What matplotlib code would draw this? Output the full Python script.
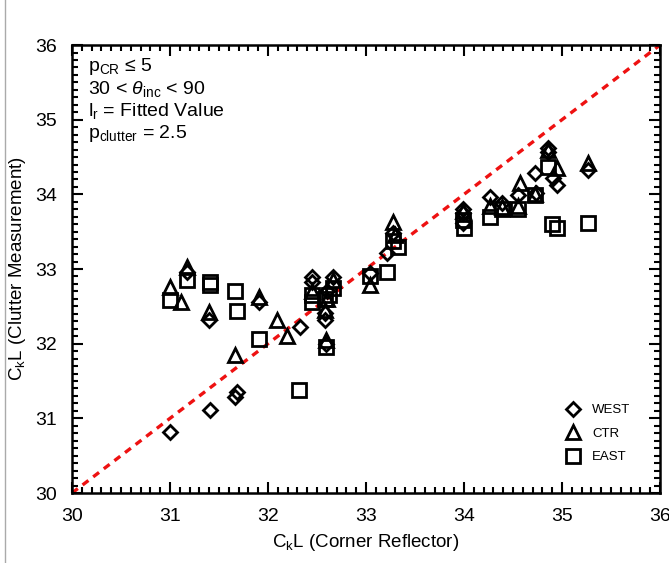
import matplotlib
matplotlib.use("Agg")
import matplotlib.pyplot as plt
from matplotlib.ticker import MultipleLocator
from matplotlib.lines import Line2D

plt.rcParams['font.family'] = ['Liberation Sans', 'DejaVu Sans']
plt.rcParams['mathtext.fontset'] = 'custom'
plt.rcParams['mathtext.rm'] = 'Liberation Sans'
plt.rcParams['mathtext.it'] = 'Liberation Sans:italic'
plt.rcParams['mathtext.bf'] = 'Liberation Sans:bold'

# ---- data ----
west_x = [31.00, 31.41, 31.66, 31.68, 31.17, 31.40, 31.91, 32.33, 32.45, 32.45,
          32.66, 32.58, 32.58, 32.59, 32.60, 33.04, 33.21, 33.28, 33.99, 33.99,
          34.27, 34.39, 34.55, 34.74, 34.86, 34.86, 34.72, 34.91, 34.95, 35.27, 33.99]
west_y = [30.82, 31.11, 31.29, 31.35, 32.96, 32.32, 32.56, 32.22, 32.89, 32.83,
          32.89, 32.41, 32.32, 32.00, 32.70, 32.95, 33.21, 33.48, 33.80, 33.75,
          33.96, 33.88, 33.99, 34.02, 34.62, 34.57, 34.29, 34.22, 34.13, 34.33, 33.62]

ctr_x = [31.00, 31.11, 31.17, 31.40, 31.66, 31.91, 32.09, 32.19, 32.45, 32.58,
         32.59, 32.66, 32.60, 33.04, 33.28, 33.30, 33.99, 34.27, 34.39, 34.57,
         34.72, 34.86, 34.95, 35.27, 34.55]
ctr_y = [32.76, 32.56, 33.03, 32.42, 31.85, 32.62, 32.32, 32.10, 32.70, 32.45,
         32.05, 32.85, 32.60, 32.78, 33.63, 33.45, 33.78, 33.85, 33.83, 34.15,
         34.00, 34.60, 34.35, 34.42, 33.85]

east_x = [31.00, 31.17, 31.41, 31.41, 31.66, 31.68, 31.91, 32.32, 32.45, 32.45,
          32.58, 32.66, 32.62, 32.59, 33.04, 33.21, 33.28, 33.33, 33.99, 34.00,
          34.27, 34.39, 34.55, 34.72, 34.86, 34.90, 34.95, 35.27]
east_y = [32.58, 32.85, 32.83, 32.78, 32.70, 32.44, 32.06, 31.38, 32.65, 32.56,
          32.60, 32.75, 32.65, 31.95, 32.90, 32.96, 33.38, 33.30, 33.65, 33.55,
          33.70, 33.80, 33.80, 33.99, 34.37, 33.60, 33.55, 33.62]

one_to_one = [30, 36]
annot_lines = [r'$\mathregular{p_{CR}}$ ≤ 5',
               r'30 < $\theta_{\mathregular{inc}}$ < 90',
               r'$\mathregular{l_{r}}$ = Fitted Value',
               r'$\mathregular{p_{clutter}}$ = 2.5']

fig = plt.figure(figsize=(6.69, 5.63), dpi=100)
ax = fig.add_axes([0.1076, 0.1243, 0.8789, 0.7957])

ax.plot(one_to_one, one_to_one, color='#ee1111', lw=2.4, ls=(0, (2.2, 1.8)), zorder=1)

mk = dict(linestyle='none', markerfacecolor='none', markeredgecolor='black',
          markeredgewidth=2.0, zorder=3)
ax.plot(west_x, west_y, marker='D', markersize=7, **mk)
ax.plot(ctr_x, ctr_y, marker='^', markersize=10.5, **mk)
ax.plot(east_x, east_y, marker='s', markersize=10, **mk)

ax.set_xlim(30, 36)
ax.set_ylim(30, 36)
ax.xaxis.set_major_locator(MultipleLocator(1))
ax.yaxis.set_major_locator(MultipleLocator(1))
ax.xaxis.set_minor_locator(MultipleLocator(0.1))
ax.yaxis.set_minor_locator(MultipleLocator(0.1))
ax.tick_params(which='both', direction='in', top=True, right=True, width=1.5, color='black')
ax.tick_params(which='major', length=8, labelsize=14, pad=11)
ax.tick_params(which='minor', length=4)
for s in ax.spines.values():
    s.set_linewidth(1.8)

ax.set_xlabel(r'C$_\mathregular{k}$L (Corner Reflector)', fontsize=13.5, labelpad=5)
ax.set_ylabel(r'C$_\mathregular{k}$L (Clutter Measurement)', fontsize=13.5, labelpad=5)

for i, t in enumerate(annot_lines):
    ax.text(0.028, 0.975 - i * 0.05, t, transform=ax.transAxes, fontsize=14,
            va='top', ha='left')

handles = [Line2D([], [], marker='D', markersize=7, **mk),
           Line2D([], [], marker='^', markersize=10.5, **mk),
           Line2D([], [], marker='s', markersize=10, **mk)]
leg = ax.legend(handles, ['WEST', 'CTR', 'EAST'], loc='lower right',
                bbox_to_anchor=(0.97, 0.04), frameon=False, fontsize=9.5,
                handletextpad=0.7, labelspacing=0.85, numpoints=1, handlelength=1.5)

fig.add_artist(Line2D([5 / 669, 5 / 669], [0, 1], color='#aaaaaa', lw=1.0,
                      transform=fig.transFigure))

fig.savefig('out.png', dpi=100)
